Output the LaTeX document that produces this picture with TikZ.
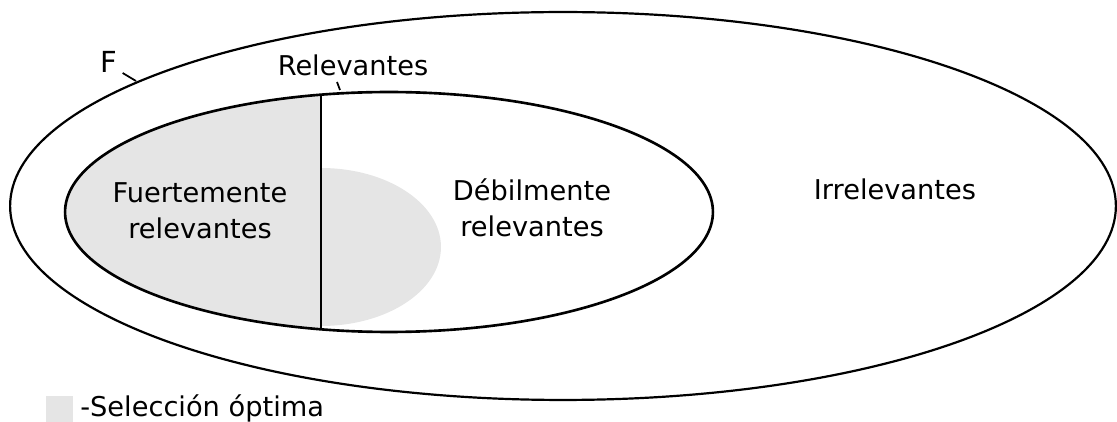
\documentclass[tikz,border=0pt]{standalone}
\usepackage{fontspec}
\setmainfont{DejaVu Sans}
\begin{document}
\begin{tikzpicture}[x=0.02cm, y=-0.02cm]
        \tikzstyle{texto} = [font=\fontsize{15.5pt}{20.5pt}\selectfont, inner sep=0pt, align=center, anchor=base]
        \tikzstyle{borde} = [draw=black, line width=1.25pt]
        \tikzstyle{guia} = [draw=black, line width=1pt]
        \tikzstyle{optimo} = [fill=gray!20]

                \useasboundingbox (0,0) rectangle (1117,422);

                % seleccion optima
                \begin{scope}
                        \clip (389,212) ellipse [x radius=6.48cm, y radius=2.4cm];
                        \fill[optimo] (0,0) rectangle (321,422);
                        \fill[optimo] (321,247) ellipse [x radius=2.4cm, y radius=1.58cm];
                \end{scope}

                \draw[borde] (563,206) ellipse [x radius=11.06cm, y radius=3.88cm];
                \draw[borde, line width=1.5pt] (389,212) ellipse [x radius=6.48cm, y radius=2.4cm];

                \coordinate (arriba) at (321,94.7);
                \coordinate (abajo) at (321,329.3);
                \draw[borde] (arriba) -- (abajo);

                % la ultima linea marca la base
                \node (fuerte) [texto] at (200,239) {Fuertemente\\relevantes};
                \node (debil) [texto] at (532,236.5) {Débilmente\\relevantes};
                \node (irrel) [texto] at (895,200) {Irrelevantes};
                \node (F) [texto, font=\fontsize{16.5pt}{20pt}\selectfont] at (109,73) {F};
                \node (relev) [texto] at (353,76) {Relevantes};

                \coordinate (finF) at (136,81);
                \coordinate (finR) at (340,90);
                \draw[guia] ([shift={(5,0)}]F.base east) -- (finF);
                \draw[guia] ([shift={(-16,6)}]relev.base) -- (finR);

                \node (muestra) [optimo, minimum size=0.54cm, inner sep=0pt] at (59.5,409.5) {};
                \node (seleccion) [texto, anchor=base west] at (80,417) {-Selección óptima};

    \end{tikzpicture}
\end{document}
